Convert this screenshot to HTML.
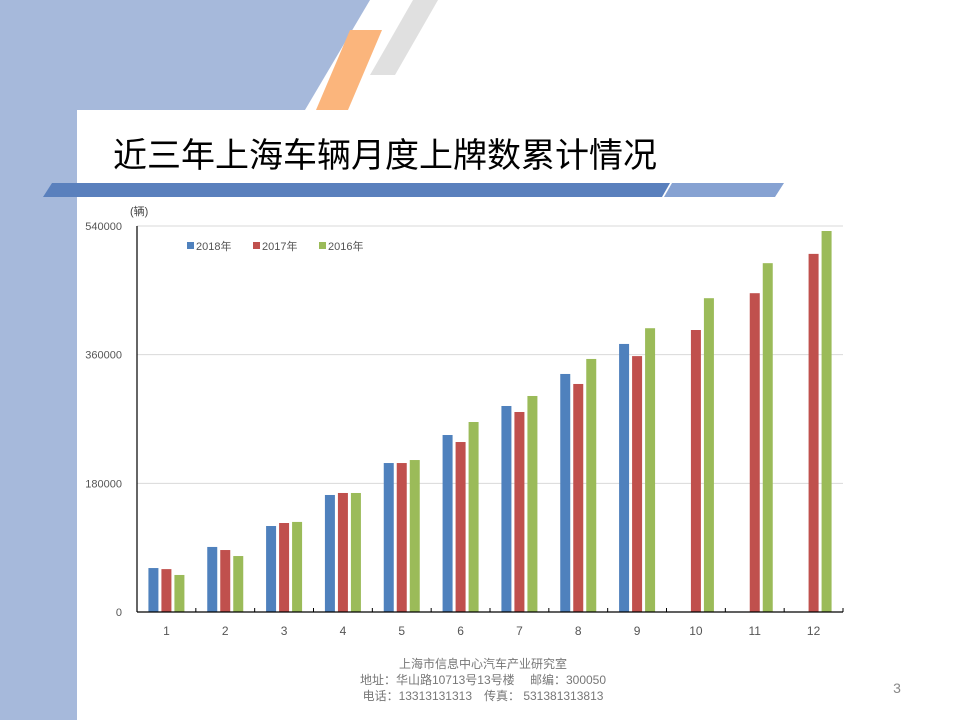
<!DOCTYPE html>
<html><head><meta charset="utf-8"><style>
body{margin:0;width:960px;height:720px;overflow:hidden;background:#fff;font-family:"Liberation Sans","Noto Sans CJK SC",sans-serif;}
svg{display:block}
</style></head><body>
<svg width="960" height="720">
<rect x="0" y="0" width="77" height="720" fill="#a6b9db"/>
<polygon points="0,0 370,0 305,110 0,110" fill="#a6b9db"/>
<polygon points="413,0 438,0 395,75 370,75" fill="#e0e0e0"/>
<polygon points="350,30 382,30 348,110 316,110" fill="#fbb57c"/>
<rect x="77" y="110" width="883" height="610" rx="12" fill="#fff"/>
<rect x="77" y="125" width="20" height="595" fill="#fff"/>
<text x="113" y="167" font-size="34" fill="#000" font-family="Liberation Sans,Noto Sans CJK SC,sans-serif">近三年上海车辆月度上牌数累计情况</text>
<polygon points="52,183 670,183 662,197 43,197" fill="#5a80bd"/>
<polygon points="672,183 784,183 775,197 664,197" fill="#86a2d2"/>
<g id="chart"></g>
<text x="130" y="215" font-size="11" fill="#444">(辆)</text>
<text x="483" y="668" font-size="12" fill="#777" text-anchor="middle">上海市信息中心汽车产业研究室</text>
<text x="483" y="684" font-size="12" fill="#777" text-anchor="middle">地址：华山路10713号13号楼　 邮编：300050</text>
<text x="483" y="700" font-size="12" fill="#777" text-anchor="middle">电话：13313131313　传真： 531381313813</text>
<text x="897" y="693" font-size="14" fill="#888" text-anchor="middle">3</text>
</svg>
<script>
const categories=["1","2","3","4","5","6","7","8","9","10","11","12"];
const s2018=[61500,91000,120300,163700,208400,247600,288200,333000,375000,null,null,null];
const s2017=[60000,86700,124500,166500,208400,237800,279800,319000,358000,394500,446000,501000];
const s2016=[51800,78300,126000,166500,212600,265800,302200,354000,397000,439000,488000,533000];
const yTicks=[0,180000,360000,540000];
const seriesNames=["2018年","2017年","2016年"];
const colors=["#4f81bd","#c0504d","#9bbb59"];
const NS="http://www.w3.org/2000/svg";
const g=document.getElementById('chart');
const x0=137,x1=843,y0=612,y1=226,yMax=540000;
const yS=v=>y0-(v/yMax)*(y0-y1);
const bw=(x1-x0)/categories.length;
const xS=i=>x0+bw*i;
function mk(t,a){const e=document.createElementNS(NS,t);for(const k in a)e.setAttribute(k,a[k]);g.appendChild(e);return e;}
yTicks.forEach(v=>{
 if(v>0){const l=mk('line',{x1:x0,x2:x1,y1:yS(v),y2:yS(v),stroke:'#d9d9d9','stroke-width':1});
 
 }
 const t=mk('text',{x:122,y:yS(v)+4,'font-size':11,fill:'#555','text-anchor':'end'});t.textContent=v;
 
 
});
[s2018,s2017,s2016].forEach((s,si)=>{
 s.forEach((v,i)=>{ if(v==null)return;
  const cx=xS(i)+bw/2;
  const r=mk('rect',{x:cx-18+si*13,y:yS(v),width:10,height:y0-yS(v),fill:colors[si]});
  
  
 });
});
const ax=mk('line',{x1:x0,x2:x0,y1:y1,y2:y0,stroke:'#000','stroke-width':1.2});


const xa=mk('line',{x1:x0,x2:x1,y1:y0,y2:y0,stroke:'#000','stroke-width':1.2});


categories.forEach((c,i)=>{
 const tk=mk('line',{x1:xS(i+1),x2:xS(i+1),y1:y0,y2:y0-4,stroke:'#000'});
 
 
 const t=mk('text',{x:xS(i)+bw/2,y:635,'font-size':12,fill:'#555','text-anchor':'middle'});t.textContent=c;
 
 
});
seriesNames.forEach((n,i)=>{
 const lx=187+i*66;
 const sw=mk('rect',{x:lx,y:242,width:7,height:7,fill:colors[i]});
 
 
 const t=mk('text',{x:lx+9,y:250,'font-size':11,fill:'#555'});t.textContent=n;
 
 
});
</script>
</body></html>
